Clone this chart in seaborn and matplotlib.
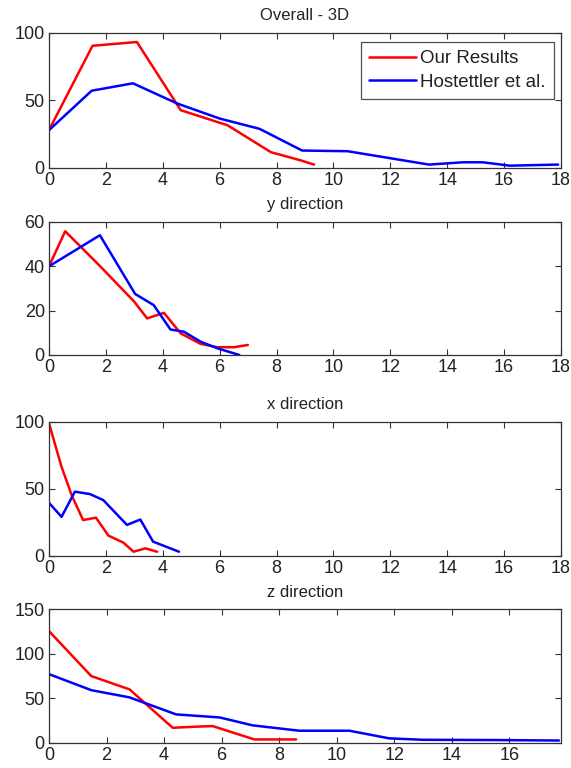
import numpy as np
import pandas as pd
import matplotlib
matplotlib.use("Agg")
import matplotlib.pyplot as plt
import seaborn as sns

# Overall - 3D
all_ours_x = [0, 1.53, 3.09, 4.63, 6.28, 7.8, 8.87, 9.32]
all_ours_y = [28, 90.5, 93.3, 42.8, 31.6, 11.7, 5.5, 2.5]
all_host_x = [0, 1.5, 2.95, 4.5, 6.0, 7.4, 8.9, 10.5, 13.36, 14.55, 15.25, 16.2, 17.9]
all_host_y = [28, 57.2, 62.7, 47.8, 36.6, 29, 12.9, 12.4, 2.5, 4.2, 4.2, 1.7, 2.5]

# y direction
y_ours_x = [0, 0.57, 1.8, 3.0, 3.45, 4.04, 4.63, 5.33, 5.92, 6.5, 6.99]
y_ours_y = [40, 55.8, 40, 24, 16.5, 19, 9.75, 5, 3.5, 3.5, 4.5]
y_host_x = [0, 1.79, 3.03, 3.68, 4.27, 4.74, 5.33, 5.92, 6.69]
y_host_y = [40, 54, 27.5, 22.5, 11.5, 10.5, 6, 3, 0]

# x direction
x_ours_x = [0, 0.44, 0.8, 1.2, 1.65, 2.09, 2.62, 2.97, 3.39, 3.8]
x_ours_y = [98.8, 66.4, 45, 26.6, 28.4, 15, 9.7, 3, 5.5, 3]
x_host_x = [0, 0.44, 0.91, 1.44, 1.91, 2.74, 3.21, 3.66, 4.57]
x_host_y = [39.5, 29, 47.8, 46, 41.5, 23, 27, 10.5, 3]

# z direction
z_ours_x = [0, 1.47, 2.8, 4.3, 5.1, 5.69, 7.14, 8.59]
z_ours_y = [125.3, 74.8, 59.9, 16.8, 18, 18.7, 3.7, 3.7]
z_host_x = [0, 1.47, 2.8, 4.42, 5.93, 7.08, 8.7, 10.44, 11.83, 13.0, 15.5, 17.73]
z_host_y = [77, 59, 50.9, 31.8, 28.4, 19.5, 13.5, 13.5, 4.9, 3.3, 3, 2.5]

titles = ["Overall - 3D", "y direction", "x direction", "z direction"]
ylims = [(0, 100), (0, 60), (0, 100), (0, 150)]
yticks = [[0, 50, 100], [0, 20, 40, 60], [0, 50, 100], [0, 50, 100, 150]]
xlims = [(0, 18), (0, 18), (0, 18), (0, 17.8)]
xticks = [list(range(0, 19, 2))] * 3 + [list(range(0, 17, 2))]

panels = [
    (all_ours_x, all_ours_y, all_host_x, all_host_y),
    (y_ours_x, y_ours_y, y_host_x, y_host_y),
    (x_ours_x, x_ours_y, x_host_x, x_host_y),
    (z_ours_x, z_ours_y, z_host_x, z_host_y),
]

sns.set_style("ticks")
plt.rcParams["font.family"] = ["Liberation Sans", "DejaVu Sans"]

fig = plt.figure(figsize=(5.71, 7.68), dpi=100)
# axes positions (left, bottom, width, height)
boxes = [
    (0.0858, 0.7813, 0.8967, 0.1758),
    (0.0858, 0.5378, 0.8967, 0.1732),
    (0.0858, 0.2764, 0.8967, 0.1745),
    (0.0858, 0.0329, 0.8967, 0.1740),
]

grey = "#333333"
for i, (ox, oy, hx, hy) in enumerate(panels):
    ax = fig.add_axes(boxes[i])
    ours = pd.DataFrame({"x": ox, "y": oy})
    host = pd.DataFrame({"x": hx, "y": hy})
    sns.lineplot(data=ours, x="x", y="y", ax=ax, color="#ff0000", lw=1.8,
                 sort=False, label="Our Results")
    sns.lineplot(data=host, x="x", y="y", ax=ax, color="#0000ff", lw=1.8,
                 sort=False, label="Hostettler et al.")
    ax.set_xlim(*xlims[i])
    ax.set_ylim(*ylims[i])
    ax.set_xticks(xticks[i])
    ax.set_yticks(yticks[i])
    ax.set_xlabel("")
    ax.set_ylabel("")
    ax.set_title(titles[i], fontsize=12, color="#222222", pad=9)
    ax.tick_params(direction="in", top=True, right=True, length=4,
                   labelsize=13, colors=grey, labelcolor="#222222", pad=3)
    for s in ax.spines.values():
        s.set_visible(True)
        s.set_color(grey)
        s.set_linewidth(0.9)
    if i == 0:
        leg = ax.legend(loc="upper right", fontsize=13.5, frameon=True,
                        fancybox=False, handlelength=2.5, borderpad=0.45,
                        labelspacing=0.35, handletextpad=0.2,
                        borderaxespad=0, bbox_to_anchor=(0.986, 0.935))
        leg.get_frame().set_edgecolor("#222222")
        leg.get_frame().set_linewidth(0.9)
        for t in leg.get_texts():
            t.set_color("#222222")
    else:
        ax.get_legend().remove()

fig.savefig("out.png", dpi=100)
